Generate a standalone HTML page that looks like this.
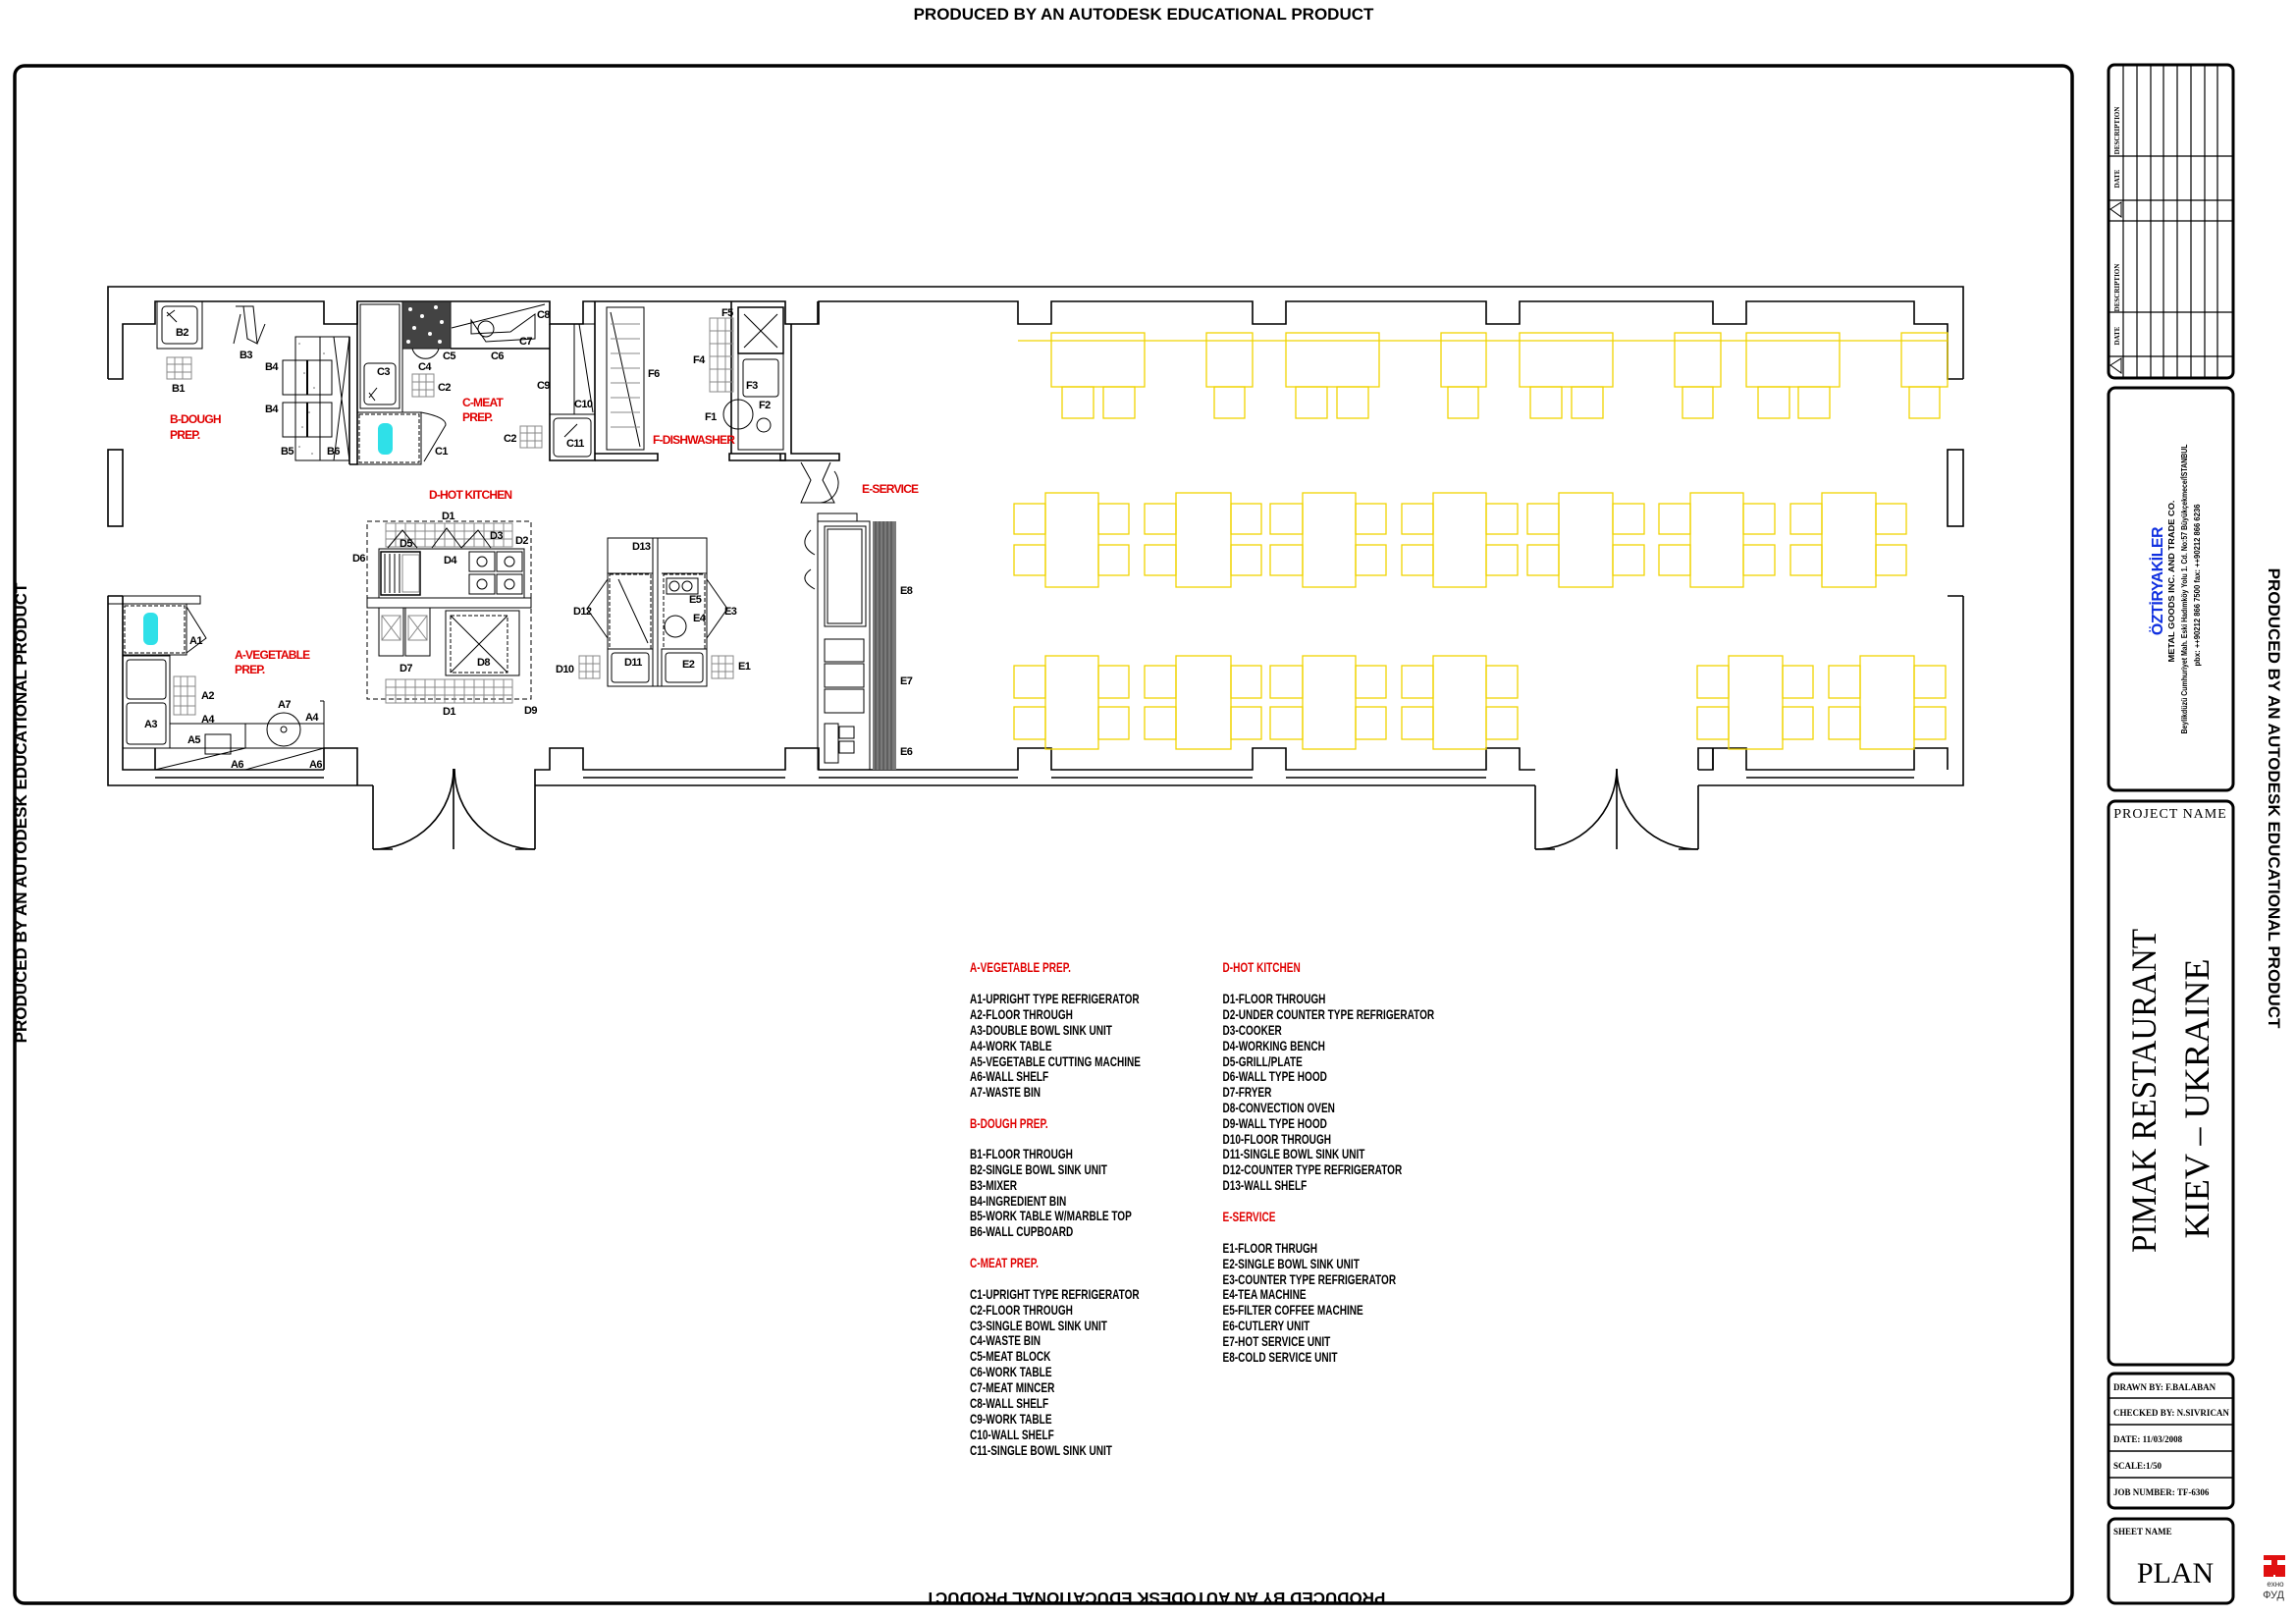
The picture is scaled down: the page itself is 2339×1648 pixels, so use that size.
<!DOCTYPE html>
<html><head><meta charset="utf-8"><style>
html,body{margin:0;padding:0;background:#fff;}
svg{display:block;}
.w{fill:none;stroke:#000;stroke-width:1.6;}
.t{fill:none;stroke:#000;stroke-width:1;}
.y{fill:none;stroke:#f0d400;stroke-width:1.3;}
.g{fill:none;stroke:#888;stroke-width:1;}
.lb{font-family:"Liberation Sans",sans-serif;font-weight:bold;font-size:11px;fill:#000;letter-spacing:-0.6px;}
.rd{font-family:"Liberation Sans",sans-serif;font-weight:bold;font-size:12px;fill:#e00000;letter-spacing:-0.8px;}
.lg{font-family:"Liberation Sans",sans-serif;font-weight:bold;font-size:13.5px;fill:#000;}
.lgr{font-family:"Liberation Sans",sans-serif;font-weight:bold;font-size:13.5px;fill:#e00000;}
.pr{font-family:"Liberation Sans",sans-serif;font-weight:bold;font-size:17px;fill:#000;}
.sf{font-family:"Liberation Serif",serif;fill:#000;}
</style></head><body>
<svg width="2339" height="1648" viewBox="0 0 2339 1648" xmlns="http://www.w3.org/2000/svg">
<rect width="2339" height="1648" fill="#fff"/>
<text class="pr" x="1165" y="20" text-anchor="middle">PRODUCED BY AN AUTODESK EDUCATIONAL PRODUCT</text>
<text class="pr" transform="translate(1177,1622) rotate(180)" text-anchor="middle">PRODUCED BY AN AUTODESK EDUCATIONAL PRODUCT</text>
<text class="pr" transform="translate(27,828) rotate(-90)" text-anchor="middle">PRODUCED BY AN AUTODESK EDUCATIONAL PRODUCT</text>
<text class="pr" transform="translate(2311,813) rotate(90)" text-anchor="middle">PRODUCED BY AN AUTODESK EDUCATIONAL PRODUCT</text>
<rect x="15" y="67" width="2096" height="1566" rx="10" fill="none" stroke="#000" stroke-width="3.5"/>

<g class="w">
<path d="M110,386 V292 H2000 V386"/>
<path d="M110,607 V800 H380 M545,800 H1564 M1730,800 H2000 V607"/>
<path d="M110,386 H125 V330 H158 V307 H330 V330 H364 V307 H560 V330 H594 V307 H800 V330 H834 V307 H1037 V330 H1071 V307 H1276 V330 H1310 V307 H1514 V330 H1548 V307 H1745 V330 H1779 V307 H1950 V330 H1984 V386 H2000"/>
<rect x="110" y="458" width="15" height="78"/>
<rect x="1984" y="458" width="16" height="78"/>
<path d="M110,607 H125 M1984,607 H2000"/>
<path d="M125,607 V784 H158 V762 M158,784 H330 M330,784 V762 H364 V800"/>
<path d="M158,792 H330"/>
<path d="M545,800 V784 H560 V762 H594 V784 H800 V762 H834 V784 H1037 V762 H1071 V784 H1276 V762 H1310 V784 H1514 V762 H1548 V784 H1564"/>
<path d="M594,792 H800 M834,792 H1037 M1071,792 H1276 M1310,792 H1514"/>
<path d="M1730,784 V762 H1745 M1730,784 H1745 V762 H1779 V784 H1950 V762 H1984 V784 M1779,792 H1950"/>
<path d="M1745,762 V784"/>
<path d="M380,800 V865 M545,800 V865 M462,783 V865"/>
<path d="M380,865 A82,82 0 0 0 462,783 M545,865 A82,82 0 0 1 463,783"/>
<path d="M380,865 H400 M525,865 H545"/>
<path d="M1564,800 V865 M1730,800 V865 M1647,783 V865"/>
<path d="M1564,865 A83,83 0 0 0 1647,783 M1730,865 A83,83 0 0 1 1647,783"/>
<path d="M1564,865 H1584 M1710,865 H1730"/>
<path d="M806,330 V462 H855 V469 H795 V462"/>
<path d="M833,307 V330"/>
<path d="M560,330 V469 H606 V307"/>
<path d="M606,462 H670 V469 H606"/>
<path d="M364,307 V473 H356"/>
<path d="M356,343 V473"/>
<path d="M459,355 H560"/>
<path d="M743,462 H800 V469 H743 Z"/>
<path d="M745,307 V462"/>
</g>

<g class="t">
<rect x="160" y="307" width="46" height="48"/><rect x="165" y="312" width="36" height="38" rx="4"/>
<path d="M170,318 L180,328 M170,322 L178,316"/>
<rect x="170" y="364" width="25" height="22" class="g"/>
<path class="g" d="M178,364 V386 M186,364 V386 M170,371 H195 M170,379 H195"/>
<path d="M240,312 H258 L262,350 L252,345 L248,312 M238,350 L245,320 M262,350 L270,330"/>
<rect x="301" y="343" width="55" height="126"/>
<path d="M326,343 V469"/>
<rect x="288" y="367" width="50" height="35"/><rect x="288" y="410" width="50" height="35"/>
<path d="M313,367 V402 M313,410 V445" stroke-width="2"/>
<path d="M340,343 L356,469 M356,343 L340,469"/>
</g>
<g fill="#666"><circle cx="305" cy="350" r="0.8"/><circle cx="310" cy="380" r="0.8"/><circle cx="315" cy="420" r="0.8"/><circle cx="305" cy="455" r="0.8"/><circle cx="320" cy="395" r="0.8"/><circle cx="308" cy="435" r="0.8"/><circle cx="330" cy="360" r="0.8"/><circle cx="318" cy="462" r="0.8"/></g>

<g class="t">
<rect x="364" y="307" width="46" height="113"/><rect x="367" y="310" width="40" height="106"/>
<rect x="371" y="370" width="32" height="42" rx="4"/>
<path d="M376,405 L384,395 M376,400 L382,408"/>
<rect x="364" y="420" width="65" height="53"/>
<rect x="366" y="422" width="61" height="49" stroke-dasharray="4,2"/>
<path d="M429,420 Q455,425 454,433 L432,470"/>
<rect x="410" y="307" width="49" height="48"/>
<path d="M420,355 A14,14 0 0 0 447,355"/>
<path d="M460,334 L555,310 M480,326 V340 L520,338 L545,320 L545,345 L495,348 Z"/>
<circle cx="495" cy="335" r="8"/>
<rect x="420" y="381" width="22" height="23" class="g"/><path class="g" d="M427,381V404M434,381V404M420,389H442M420,397H442"/>
<rect x="530" y="434" width="22" height="22" class="g"/><path class="g" d="M537,434V456M545,434V456M530,441H552M530,449H552"/>
<rect x="585" y="330" width="21" height="92"/><path d="M590,330 L604,420"/>
<rect x="560" y="422" width="46" height="47"/><rect x="564" y="426" width="38" height="39" rx="4"/>
<path d="M575,445 L588,432"/>
</g>
<rect x="410" y="307" width="49" height="48" fill="#222" opacity="0.85"/>
<g fill="#fff"><circle cx="418" cy="315" r="2"/><circle cx="430" cy="322" r="2"/><circle cx="444" cy="313" r="2"/><circle cx="422" cy="334" r="2"/><circle cx="438" cy="340" r="2"/><circle cx="450" cy="328" r="2"/><circle cx="416" cy="348" r="2"/><circle cx="448" cy="348" r="2"/></g>
<rect x="385" y="431" width="15" height="32" rx="6" fill="#2fe0e8"/>

<g class="t">
<rect x="618" y="313" width="38" height="145"/>
<path d="M622,318 L652,455"/>
<path class="g" d="M622,330H652M622,345H652M622,360H652M622,375H652M622,390H652M622,405H652M622,420H652M622,435H652"/>
<rect x="723" y="324" width="24" height="75" class="g"/>
<path class="g" d="M731,324V399M739,324V399M723,337H747M723,350H747M723,363H747M723,376H747M723,389H747"/>
<rect x="752" y="313" width="46" height="47" stroke-width="1.5"/>
<path d="M758,320 L792,354 M792,320 L758,354"/>
<rect x="752" y="360" width="46" height="98"/>
<rect x="757" y="366" width="36" height="38" rx="3"/>
<circle cx="752" cy="422" r="15"/><path d="M752,407 V437"/>
<circle cx="778" cy="433" r="7"/>
</g>

<g class="t">
<rect x="374" y="531" width="167" height="181" stroke-dasharray="5,3"/>
<rect x="393" y="533" width="129" height="24" class="g"/>
<path class="g" d="M403,533V557M413,533V557M423,533V557M433,533V557M443,533V557M453,533V557M463,533V557M473,533V557M483,533V557M493,533V557M503,533V557M513,533V557M393,541H522M393,549H522"/>
<path d="M395,558 L410,540 L425,558 M440,558 L455,538 L470,558 M470,558 L487,540 L500,558"/>
<rect x="386" y="559" width="148" height="50"/>
<rect x="388" y="562" width="40" height="44" stroke-width="1.5"/>
<path d="M392,564V604M397,564V604M402,564V604M407,564V604"/>
<rect x="410" y="565" width="17" height="38" class="g"/>
<rect x="478" y="562" width="26" height="20"/><rect x="506" y="562" width="26" height="20"/>
<rect x="478" y="585" width="26" height="20"/><rect x="506" y="585" width="26" height="20"/>
<circle cx="491" cy="572" r="5"/><circle cx="519" cy="572" r="5"/><circle cx="491" cy="595" r="5"/><circle cx="519" cy="595" r="5"/>
<rect x="374" y="609" width="167" height="10"/>
<rect x="386" y="619" width="25" height="49"/><rect x="413" y="619" width="25" height="49"/>
<rect x="389" y="627" width="19" height="25" class="g"/><rect x="416" y="627" width="19" height="25" class="g"/>
<path class="g" d="M389,627L408,652M408,627L389,652M416,627L435,652M435,627L416,652"/>
<rect x="454" y="622" width="75" height="66"/>
<rect x="459" y="627" width="58" height="58" stroke-dasharray="4,2"/>
<path d="M459,627 L517,685 M517,627 L459,685"/>
<rect x="393" y="692" width="129" height="24" class="g"/>
<path class="g" d="M403,692V716M413,692V716M423,692V716M433,692V716M443,692V716M453,692V716M463,692V716M473,692V716M483,692V716M493,692V716M503,692V716M513,692V716M393,700H522M393,708H522"/>
<rect x="619" y="548" width="101" height="151"/>
<path d="M670,548 V699 M665,548 V699 M619,584 H665 M674,584 H720"/>
<rect x="621" y="585" width="42" height="76" stroke-dasharray="4,2"/>
<path d="M630,590 L660,655"/>
<rect x="676" y="585" width="42" height="76" stroke-dasharray="4,2"/>
<rect x="679" y="589" width="32" height="16"/><circle cx="687" cy="597" r="5"/><circle cx="700" cy="597" r="5"/>
<circle cx="688" cy="638" r="11"/>
<path d="M619,590 L598,620 L619,650 M720,590 L741,620 L720,650"/>
<rect x="619" y="661" width="46" height="38"/><rect x="623" y="665" width="38" height="30" rx="3"/>
<rect x="674" y="661" width="46" height="38"/><rect x="678" y="665" width="38" height="30" rx="3"/>
<rect x="590" y="668" width="21" height="23" class="g"/><path class="g" d="M597,668V691M604,668V691M590,676H611M590,684H611"/>
<rect x="725" y="668" width="22" height="23" class="g"/><path class="g" d="M732,668V691M739,668V691M725,676H747M725,684H747"/>
</g>

<g class="t">
<rect x="110" y="607" width="94" height="8"/>
<rect x="125" y="615" width="65" height="52"/>
<rect x="127" y="617" width="61" height="48" stroke-dasharray="4,2"/>
<path d="M190,618 L210,650 L190,665"/>
<rect x="125" y="668" width="48" height="94"/>
<rect x="129" y="672" width="40" height="40" rx="3"/><rect x="129" y="716" width="40" height="42" rx="3"/>
<rect x="177" y="689" width="22" height="39" class="g"/><path class="g" d="M184,689V728M191,689V728M177,699H199M177,709H199M177,719H199"/>
<rect x="173" y="737" width="157" height="25"/>
<path d="M250,737 V762 M158,784 L250,762 M250,784 L330,762"/>
<path d="M330,714 V762 M326,714 H330"/>
<circle cx="289" cy="743" r="17"/><circle cx="289" cy="743" r="3"/>
<rect x="209" y="748" width="26" height="20"/>
</g>
<rect x="146" y="624" width="15" height="33" rx="6" fill="#2fe0e8"/>

<g class="t">
<path d="M816,471 L826,489 L816,512 L850,512 L838,489 L846,471 M828,469 H850 M836,512 A20,20 0 0 0 850,480"/>
<rect x="833" y="531" width="53" height="253"/>
<rect x="840" y="536" width="42" height="102"/><rect x="843" y="539" width="35" height="96"/>
<rect x="840" y="651" width="40" height="23"/><rect x="840" y="676" width="40" height="24"/><rect x="840" y="702" width="40" height="24"/>
<rect x="840" y="737" width="14" height="40"/><rect x="855" y="740" width="15" height="12"/><rect x="855" y="755" width="15" height="12"/>
<path d="M826,540 Q812,555 830,565 M826,580 Q812,590 830,600"/>
<rect x="833" y="523" width="40" height="8"/>
</g>
<rect x="889" y="531" width="24" height="253" fill="#7a7a7a"/>
<path d="M892,531V784M896,531V784M900,531V784M904,531V784M908,531V784" stroke="#444" stroke-width="1"/>

<g class="y">
<path d="M1037,347 H1984"/>
<rect x="1071" y="339" width="95" height="55"/><rect x="1229" y="339" width="47" height="55"/><rect x="1310" y="339" width="95" height="55"/><rect x="1468" y="339" width="46" height="55"/><rect x="1548" y="339" width="95" height="55"/><rect x="1706" y="339" width="47" height="55"/><rect x="1779" y="339" width="95" height="55"/><rect x="1937" y="339" width="47" height="55"/>
<rect x="1082" y="394" width="32" height="32"/><rect x="1124" y="394" width="32" height="32"/><rect x="1237" y="394" width="31" height="32"/><rect x="1320" y="394" width="32" height="32"/><rect x="1362" y="394" width="32" height="32"/><rect x="1475" y="394" width="31" height="32"/><rect x="1559" y="394" width="32" height="32"/><rect x="1601" y="394" width="32" height="32"/><rect x="1714" y="394" width="31" height="32"/><rect x="1791" y="394" width="32" height="32"/><rect x="1832" y="394" width="32" height="32"/><rect x="1945" y="394" width="31" height="32"/>
</g>
<g class="y">
<rect x="1065" y="502" width="54" height="96"/><rect x="1033" y="513" width="32" height="31"/><rect x="1033" y="555" width="32" height="31"/><rect x="1119" y="513" width="31" height="31"/><rect x="1119" y="555" width="31" height="31"/>
<rect x="1198" y="502" width="56" height="96"/><rect x="1166" y="513" width="32" height="31"/><rect x="1166" y="555" width="32" height="31"/><rect x="1254" y="513" width="31" height="31"/><rect x="1254" y="555" width="31" height="31"/>
<rect x="1327" y="502" width="54" height="96"/><rect x="1294" y="513" width="33" height="31"/><rect x="1294" y="555" width="33" height="31"/><rect x="1381" y="513" width="31" height="31"/><rect x="1381" y="555" width="31" height="31"/>
<rect x="1460" y="502" width="54" height="96"/><rect x="1428" y="513" width="32" height="31"/><rect x="1428" y="555" width="32" height="31"/><rect x="1514" y="513" width="32" height="31"/><rect x="1514" y="555" width="32" height="31"/>
<rect x="1588" y="502" width="55" height="96"/><rect x="1556" y="513" width="32" height="31"/><rect x="1556" y="555" width="32" height="31"/><rect x="1643" y="513" width="32" height="31"/><rect x="1643" y="555" width="32" height="31"/>
<rect x="1722" y="502" width="54" height="96"/><rect x="1690" y="513" width="32" height="31"/><rect x="1690" y="555" width="32" height="31"/><rect x="1776" y="513" width="32" height="31"/><rect x="1776" y="555" width="32" height="31"/>
<rect x="1856" y="502" width="55" height="96"/><rect x="1824" y="513" width="32" height="31"/><rect x="1824" y="555" width="32" height="31"/><rect x="1911" y="513" width="31" height="31"/><rect x="1911" y="555" width="31" height="31"/>
</g>
<g class="y">
<rect x="1065" y="668" width="54" height="95"/><rect x="1033" y="678" width="32" height="33"/><rect x="1033" y="720" width="32" height="33"/><rect x="1119" y="678" width="31" height="33"/><rect x="1119" y="720" width="31" height="33"/>
<rect x="1198" y="668" width="56" height="95"/><rect x="1166" y="678" width="32" height="33"/><rect x="1166" y="720" width="32" height="33"/><rect x="1254" y="678" width="31" height="33"/><rect x="1254" y="720" width="31" height="33"/>
<rect x="1327" y="668" width="54" height="95"/><rect x="1294" y="678" width="33" height="33"/><rect x="1294" y="720" width="33" height="33"/><rect x="1381" y="678" width="31" height="33"/><rect x="1381" y="720" width="31" height="33"/>
<rect x="1460" y="668" width="54" height="95"/><rect x="1428" y="678" width="32" height="33"/><rect x="1428" y="720" width="32" height="33"/><rect x="1514" y="678" width="32" height="33"/><rect x="1514" y="720" width="32" height="33"/>
<rect x="1761" y="668" width="55" height="95"/><rect x="1729" y="678" width="32" height="33"/><rect x="1729" y="720" width="32" height="33"/><rect x="1816" y="678" width="31" height="33"/><rect x="1816" y="720" width="31" height="33"/>
<rect x="1895" y="668" width="55" height="95"/><rect x="1863" y="678" width="32" height="33"/><rect x="1863" y="720" width="32" height="33"/><rect x="1950" y="678" width="32" height="33"/><rect x="1950" y="720" width="32" height="33"/>
</g>

<text class="rd" x="173" y="431">B-DOUGH</text><text class="rd" x="173" y="447">PREP.</text>
<text class="rd" x="471" y="414">C-MEAT</text><text class="rd" x="471" y="429">PREP.</text>
<text class="rd" x="437" y="508">D-HOT KITCHEN</text>
<text class="rd" x="665" y="452">F-DISHWASHER</text>
<text class="rd" x="239" y="671">A-VEGETABLE</text><text class="rd" x="239" y="686">PREP.</text>
<text class="rd" x="878" y="502">E-SERVICE</text>

<g class="lb">
<text x="179" y="342">B2</text><text x="244" y="365">B3</text><text x="175" y="399">B1</text>
<text x="270" y="377">B4</text><text x="270" y="420">B4</text><text x="286" y="463">B5</text><text x="333" y="463">B6</text>
<text x="384" y="382">C3</text><text x="426" y="377">C4</text><text x="451" y="366">C5</text><text x="500" y="366">C6</text>
<text x="529" y="351">C7</text><text x="547" y="324">C8</text><text x="547" y="396">C9</text>
<text x="446" y="398">C2</text><text x="513" y="450">C2</text><text x="443" y="463">C1</text>
<text x="585" y="415">C10</text><text x="577" y="455">C11</text>
<text x="660" y="384">F6</text><text x="735" y="322">F5</text><text x="706" y="370">F4</text>
<text x="760" y="396">F3</text><text x="773" y="416">F2</text><text x="718" y="428">F1</text>
<text x="450" y="529">D1</text><text x="499" y="549">D3</text><text x="525" y="554">D2</text>
<text x="407" y="557">D5</text><text x="359" y="572">D6</text><text x="452" y="574">D4</text>
<text x="407" y="684">D7</text><text x="486" y="678">D8</text><text x="451" y="728">D1</text><text x="534" y="727">D9</text>
<text x="644" y="560">D13</text><text x="584" y="626">D12</text><text x="702" y="614">E5</text><text x="706" y="633">E4</text>
<text x="738" y="626">E3</text><text x="566" y="685">D10</text><text x="636" y="678">D11</text><text x="695" y="680">E2</text>
<text x="752" y="682">E1</text>
<text x="193" y="656">A1</text><text x="205" y="712">A2</text><text x="205" y="736">A4</text><text x="283" y="721">A7</text>
<text x="311" y="734">A4</text><text x="147" y="741">A3</text><text x="191" y="757">A5</text><text x="235" y="782">A6</text><text x="315" y="782">A6</text>
<text x="917" y="605">E8</text><text x="917" y="697">E7</text><text x="917" y="769">E6</text>
</g>

<g transform="translate(988,0) scale(0.745,1)">
<text class="lgr" x="0" y="990">A-VEGETABLE PREP.</text>
<text class="lg" x="0" y="1022">A1-UPRIGHT TYPE REFRIGERATOR</text>
<text class="lg" x="0" y="1038">A2-FLOOR THROUGH</text>
<text class="lg" x="0" y="1054">A3-DOUBLE BOWL SINK UNIT</text>
<text class="lg" x="0" y="1070">A4-WORK TABLE</text>
<text class="lg" x="0" y="1086">A5-VEGETABLE CUTTING MACHINE</text>
<text class="lg" x="0" y="1101">A6-WALL SHELF</text>
<text class="lg" x="0" y="1117">A7-WASTE BIN</text>
<text class="lgr" x="0" y="1149">B-DOUGH PREP.</text>
<text class="lg" x="0" y="1180">B1-FLOOR THROUGH</text>
<text class="lg" x="0" y="1196">B2-SINGLE BOWL SINK UNIT</text>
<text class="lg" x="0" y="1212">B3-MIXER</text>
<text class="lg" x="0" y="1228">B4-INGREDIENT BIN</text>
<text class="lg" x="0" y="1243">B5-WORK TABLE W/MARBLE TOP</text>
<text class="lg" x="0" y="1259">B6-WALL CUPBOARD</text>
<text class="lgr" x="0" y="1291">C-MEAT PREP.</text>
<text class="lg" x="0" y="1323">C1-UPRIGHT TYPE REFRIGERATOR</text>
<text class="lg" x="0" y="1339">C2-FLOOR THROUGH</text>
<text class="lg" x="0" y="1355">C3-SINGLE BOWL SINK UNIT</text>
<text class="lg" x="0" y="1370">C4-WASTE BIN</text>
<text class="lg" x="0" y="1386">C5-MEAT BLOCK</text>
<text class="lg" x="0" y="1402">C6-WORK TABLE</text>
<text class="lg" x="0" y="1418">C7-MEAT MINCER</text>
<text class="lg" x="0" y="1434">C8-WALL SHELF</text>
<text class="lg" x="0" y="1450">C9-WORK TABLE</text>
<text class="lg" x="0" y="1466">C10-WALL SHELF</text>
<text class="lg" x="0" y="1482">C11-SINGLE BOWL SINK UNIT</text>
</g>
<g transform="translate(1245.5,0) scale(0.745,1)">
<text class="lgr" x="0" y="990">D-HOT KITCHEN</text>
<text class="lg" x="0" y="1022">D1-FLOOR THROUGH</text>
<text class="lg" x="0" y="1038">D2-UNDER COUNTER TYPE REFRIGERATOR</text>
<text class="lg" x="0" y="1054">D3-COOKER</text>
<text class="lg" x="0" y="1070">D4-WORKING BENCH</text>
<text class="lg" x="0" y="1086">D5-GRILL/PLATE</text>
<text class="lg" x="0" y="1101">D6-WALL TYPE HOOD</text>
<text class="lg" x="0" y="1117">D7-FRYER</text>
<text class="lg" x="0" y="1133">D8-CONVECTION OVEN</text>
<text class="lg" x="0" y="1149">D9-WALL TYPE HOOD</text>
<text class="lg" x="0" y="1165">D10-FLOOR THROUGH</text>
<text class="lg" x="0" y="1180">D11-SINGLE BOWL SINK UNIT</text>
<text class="lg" x="0" y="1196">D12-COUNTER TYPE REFRIGERATOR</text>
<text class="lg" x="0" y="1212">D13-WALL SHELF</text>
<text class="lgr" x="0" y="1244">E-SERVICE</text>
<text class="lg" x="0" y="1276">E1-FLOOR THRUGH</text>
<text class="lg" x="0" y="1292">E2-SINGLE BOWL SINK UNIT</text>
<text class="lg" x="0" y="1308">E3-COUNTER TYPE REFRIGERATOR</text>
<text class="lg" x="0" y="1323">E4-TEA MACHINE</text>
<text class="lg" x="0" y="1339">E5-FILTER COFFEE MACHINE</text>
<text class="lg" x="0" y="1355">E6-CUTLERY UNIT</text>
<text class="lg" x="0" y="1371">E7-HOT SERVICE UNIT</text>
<text class="lg" x="0" y="1387">E8-COLD SERVICE UNIT</text>
</g>

<g fill="none" stroke="#000">
<rect x="2148" y="66" width="127" height="319" rx="6" stroke-width="3"/>
<path stroke-width="1.2" d="M2163,66V385M2177,66V385M2191,66V385M2204,66V385M2218,66V385M2232,66V385M2246,66V385M2259,66V385"/>
<path stroke-width="1.2" d="M2148,159H2275M2148,204H2275M2148,225H2275M2148,318H2275M2148,363H2275"/>
<path stroke-width="1" d="M2150,213 L2161,206 L2161,221 Z M2150,372 L2161,365 L2161,380 Z"/>
<rect x="2148" y="395" width="127" height="410" rx="7" stroke-width="3"/>
<rect x="2148" y="816" width="127" height="574" rx="7" stroke-width="3"/>
<rect x="2148" y="1399" width="127" height="137" rx="6" stroke-width="3"/>
<path stroke-width="1.5" d="M2148,1424H2275M2148,1451H2275M2148,1478H2275M2148,1505H2275"/>
<rect x="2148" y="1547" width="127" height="86" rx="7" stroke-width="3"/>
</g>
<g class="sf" font-size="7" font-weight="bold">
<text transform="translate(2159,133) rotate(-90)" text-anchor="middle">DESCRIPTION</text>
<text transform="translate(2159,182) rotate(-90)" text-anchor="middle">DATE</text>
<text transform="translate(2159,293) rotate(-90)" text-anchor="middle">DESCRIPTION</text>
<text transform="translate(2159,342) rotate(-90)" text-anchor="middle">DATE</text>
</g>
<text transform="translate(2203,592) rotate(-90)" text-anchor="middle" font-family="Liberation Sans,sans-serif" font-weight="bold" font-size="16" fill="#1030e0" letter-spacing="-0.5">ÖZTİRYAKİLER</text>
<g font-family="Liberation Sans,sans-serif" font-weight="bold" font-size="8.5" fill="#000">
<text transform="translate(2215,592) rotate(-90)" text-anchor="middle" textLength="165" lengthAdjust="spacingAndGlyphs">METAL GOODS INC. AND TRADE CO.</text>
<text transform="translate(2228,600) rotate(-90)" text-anchor="middle" textLength="295" lengthAdjust="spacingAndGlyphs">Beylikdüzü Cumhuriyet Mah. Eski Hadımköy Yolu 1. Cd. No:57 Büyükçekmece/İSTANBUL</text>
<text transform="translate(2241,596) rotate(-90)" text-anchor="middle" textLength="165" lengthAdjust="spacingAndGlyphs">pbx: ++90212 866 7500 fax: ++90212 866 6236</text>
</g>
<text class="sf" x="2211" y="833" text-anchor="middle" font-size="14" letter-spacing="1">PROJECT NAME</text>
<text class="sf" transform="translate(2196,1111) rotate(-90)" text-anchor="middle" font-size="36" textLength="330" lengthAdjust="spacingAndGlyphs">PIMAK RESTAURANT</text>
<text class="sf" transform="translate(2250,1119) rotate(-90)" text-anchor="middle" font-size="36" textLength="285" lengthAdjust="spacingAndGlyphs">KIEV  –  UKRAINE</text>
<g class="sf" font-size="9" font-weight="bold">
<text x="2153" y="1416">DRAWN  BY:  F.BALABAN</text>
<text x="2153" y="1442">CHECKED  BY: N.SIVRICAN</text>
<text x="2153" y="1469">DATE:  11/03/2008</text>
<text x="2153" y="1496">SCALE:1/50</text>
<text x="2153" y="1523">JOB  NUMBER: TF-6306</text>
<text x="2153" y="1563">SHEET  NAME</text>
</g>
<text class="sf" x="2216" y="1612" text-anchor="middle" font-size="30">PLAN</text>
<g fill="#e01010">
<rect x="2306" y="1584" width="22" height="5"/><rect x="2314" y="1584" width="6" height="20"/><rect x="2306" y="1594" width="10" height="12"/><rect x="2318" y="1594" width="10" height="12"/>
</g>
<text x="2318" y="1616" text-anchor="middle" font-family="Liberation Sans,sans-serif" font-size="8" fill="#333">ехно</text>
<text x="2316" y="1628" text-anchor="middle" font-family="Liberation Sans,sans-serif" font-size="11" fill="#333">ФУД</text>
</svg>
</body></html>
